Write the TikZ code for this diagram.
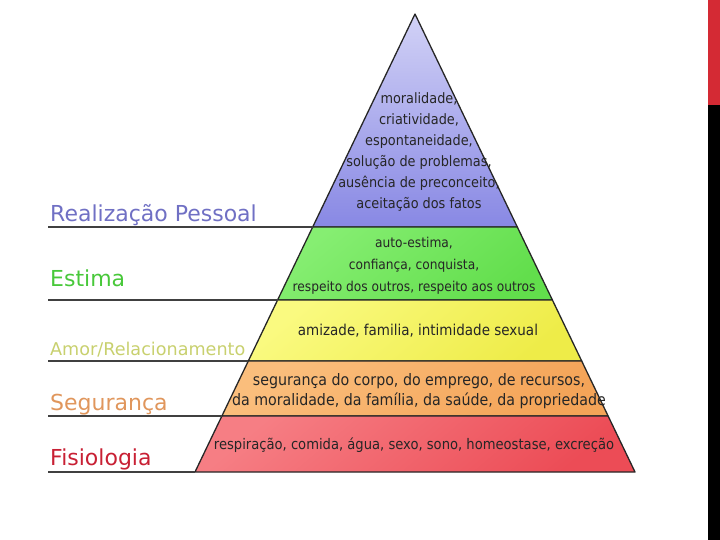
\documentclass[tikz,border=0pt]{standalone}
\usepackage{fontspec}
\setmainfont{DejaVu Sans}
\newfontfamily\condfont{DejaVu Sans Condensed}
\usetikzlibrary{positioning}

\definecolor{realcol}{RGB}{112,112,196}
\definecolor{estcol}{RGB}{72,200,58}
\definecolor{amorcol}{RGB}{200,208,110}
\definecolor{segcol}{RGB}{224,150,92}
\definecolor{fiscol}{RGB}{200,32,52}
\definecolor{barred}{RGB}{212,42,52}

\tikzset{
  tier/.style={draw=black!85, line width=1.3pt, line join=round},
  rule/.style={draw=black!75, line width=1.8pt},
  lab/.style={anchor=base west, inner sep=0pt, font=\fontsize{22}{26}\selectfont},
  txt/.style={align=center, text=black!85, inner sep=0pt, font=\condfont\fontsize{14.6}{21}\selectfont}
}

\begin{document}
\begin{tikzpicture}[x=1pt,y=-1pt]
\useasboundingbox (0,0) rectangle (720,540);

% corners of the pyramid
\coordinate (top) at (415,14);
\coordinate (l1) at (312.7,227); \coordinate (r1) at (517.3,227);
\coordinate (l2) at (277.6,300); \coordinate (r2) at (552.4,300);
\coordinate (l3) at (248.3,361); \coordinate (r3) at (581.7,361);
\coordinate (l4) at (221.9,416); \coordinate (r4) at (608.1,416);
\coordinate (l5) at (195,472);   \coordinate (r5) at (635,472);

% tiers
\draw[tier, top color={rgb,255:red,210;green,210;blue,246}, bottom color={rgb,255:red,136;green,136;blue,228}] (top) -- (r1) -- (l1) -- cycle;
\draw[tier, top color={rgb,255:red,134;green,238;blue,114}, bottom color={rgb,255:red,98;green,222;blue,76}, shading angle=40] (l1) -- (r1) -- (r2) -- (l2) -- cycle;
\draw[tier, top color={rgb,255:red,250;green,250;blue,128}, bottom color={rgb,255:red,238;green,236;blue,72}, shading angle=40] (l2) -- (r2) -- (r3) -- (l3) -- cycle;
\draw[tier, top color={rgb,255:red,250;green,190;blue,124}, bottom color={rgb,255:red,244;green,164;blue,88}, shading angle=40] (l3) -- (r3) -- (r4) -- (l4) -- cycle;
\draw[tier, top color={rgb,255:red,246;green,126;blue,132}, bottom color={rgb,255:red,236;green,76;blue,86}, shading angle=40] (l4) -- (r4) -- (r5) -- (l5) -- cycle;

% lines under the labels
\coordinate (e1) at (48,227);
\coordinate (e2) at (48,300);
\coordinate (e3) at (48,361);
\coordinate (e4) at (48,416);
\coordinate (e5) at (48,472);
\draw[rule] (e1) -- (l1);
\draw[rule] (e2) -- (l2);
\draw[rule] (e3) -- (l3);
\draw[rule] (e4) -- (l4);
\draw[rule] (e5) -- (l5);

% labels
\node[lab, text=realcol] (real) at (50,222) {Realização Pessoal};
\node[lab, text=estcol] (estima) at (50,286) {Estima};
\node[lab, text=amorcol, font=\fontsize{17.6}{21}\selectfont] (amor) at (50,355) {Amor/Relacionamento};
\node[lab, text=segcol] (seg) at (50,410) {Segurança};
\node[lab, text=fiscol] (fisio) at (50,465) {Fisiologia};

% texts in the tiers
\node[txt, font=\condfont\fontsize{14.3}{21}\selectfont] (realtxt) at (419,152) {moralidade,\\criatividade,\\espontaneidade,\\solução de problemas,\\ausência de preconceito,\\aceitação dos fatos};
\node[txt, font=\condfont\fontsize{13.6}{22}\selectfont] (esttxt) at (414,266) {auto-estima,\\confiança, conquista,\\respeito dos outros, respeito aos outros};
\node[txt, font=\condfont\fontsize{15}{21}\selectfont] (amortxt) at (418,331) {amizade, familia, intimidade sexual};
\node[txt, font=\condfont\fontsize{15.8}{20}\selectfont] (segtxt) at (419,391) {segurança do corpo, do emprego, de recursos,\\da moralidade, da família, da saúde, da propriedade};
\node[txt] (fistxt) at (414,445) {respiração, comida, água, sexo, sono, homeostase, excreção};

% bar at the right
\fill[black] (708,0) rectangle (720,540);
\fill[barred] (708,0) rectangle (720,105);
\end{tikzpicture}
\end{document}
